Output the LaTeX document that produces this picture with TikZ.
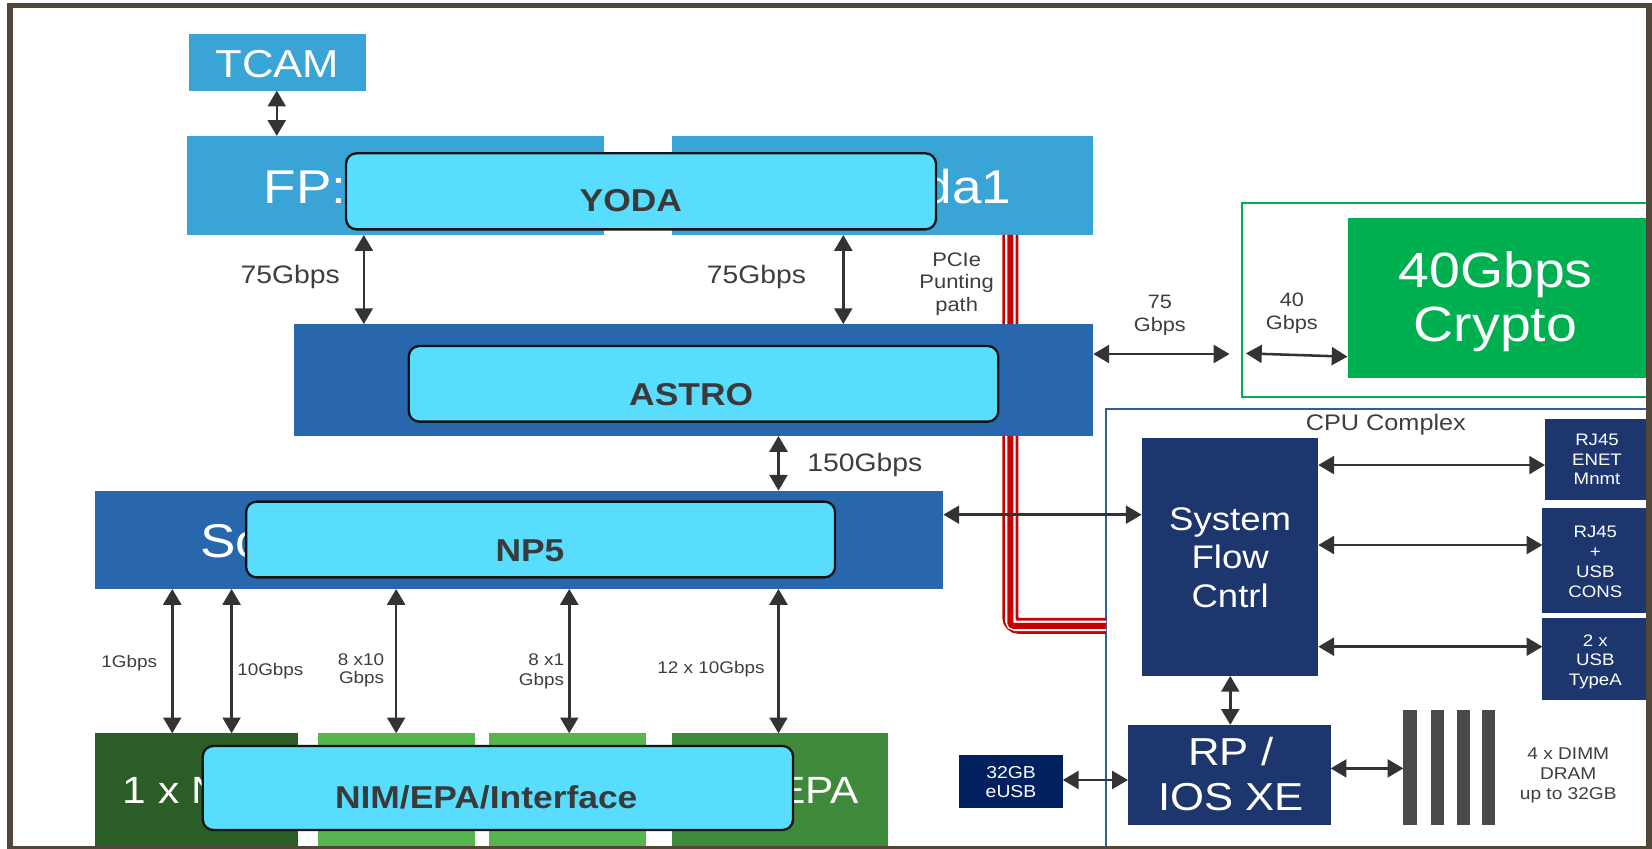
\documentclass[tikz,border=0pt]{standalone}
\usepackage{fontspec}
\setmainfont{Liberation Sans}[FakeStretch=1.12]
\usetikzlibrary{arrows.meta,fit}
\definecolor{lbc}{RGB}{58,164,214}
\definecolor{mbc}{RGB}{41,103,173}
\definecolor{cyc}{RGB}{88,221,254}
\definecolor{navyc}{RGB}{29,54,110}
\definecolor{eusbc}{RGB}{0,32,96}
\definecolor{cgreen}{RGB}{0,176,80}
\definecolor{dgreen}{RGB}{43,93,39}
\definecolor{lgreen}{RGB}{86,181,78}
\definecolor{mgreen}{RGB}{63,138,58}
\definecolor{arrc}{RGB}{51,51,51}
\definecolor{framec}{RGB}{82,70,58}
\definecolor{cpublue}{RGB}{46,96,158}
\definecolor{dimmc}{RGB}{74,74,74}
\definecolor{pred}{RGB}{200,0,0}
\definecolor{txtgray}{RGB}{62,62,62}
\definecolor{boldtxt}{RGB}{58,58,58}
\newcommand\myfs[2]{\fontsize{#1}{#2}\selectfont}
\newcommand\mkbox[6]{\node[#2, fit={(#3,#4)(#5,#6)}] (#1) {};}
\begin{document}
\begin{tikzpicture}[x=0.5pt,y=-0.5pt,
  bx/.style={inner sep=0pt, outer sep=0pt},
  lbbox/.style={bx, fill=lbc},
  mbbox/.style={bx, fill=mbc},
  navybox/.style={bx, fill=navyc},
  cybox/.style={bx, fill=cyc, draw=black!92, line width=1.1pt, rounded corners=5pt},
  arr/.style={draw=arrc, line width=1.2pt, {Triangle[length=7.5pt,width=8.5pt]}-{Triangle[length=7.5pt,width=8.5pt]}},
  lbl/.style={text=txtgray, inner sep=0pt, anchor=base},
  wt/.style={text=white, inner sep=0pt, anchor=base},
  bt/.style={text=boldtxt, inner sep=0pt, anchor=base, font=\myfs{15}{17}\bfseries}]
\useasboundingbox (0,0) rectangle (1568,805);
\fill[white] (0,0) rectangle (1568,805);

% --- FP / TCAM ---
\mkbox{tcam}{lbbox}{179.7}{32.3}{347.4}{86}
\node[wt, font=\myfs{18.5}{21}] (tcamt) at (263.4,73.4) {TCAM};
\mkbox{fpl}{lbbox}{177.1}{129}{573.3}{223}
\mkbox{fpr}{lbbox}{637.6}{129}{1037.7}{223}
\node[wt, font=\myfs{22.5}{26}, anchor=base west] (fpt) at (249.8,193) {FP:};
\node[wt, font=\myfs{22.5}{26}, anchor=base east] (dat) at (960.2,193) {da1};
\mkbox{yoda}{cybox}{328.4}{145.5}{888.4}{217.7}
\node[bt] (yodat) at (598.7,200.9) {YODA};
\draw[arr] (tcam.south -| 262.7,0) -- (fpl.north -| 262.7,0);

% --- outlines ---
\mkbox{cpu}{bx, draw=cpublue, line width=0.75pt}{1049.8}{388.3}{1563.5}{806}
\mkbox{grn}{bx, draw=cgreen, line width=0.75pt}{1178.7}{192.4}{1565}{377}

% --- PCIe punting path ---
\coordinate (pc) at (959,594);
\draw[pred, line width=7.6pt, rounded corners=4pt] (fpr.south -| pc) -- (pc) -- (cpu.west |- pc);
\draw[white, line width=5pt, rounded corners=2.5pt] (fpr.south -| pc) -- (pc) -- (cpu.west |- pc);
\draw[pred, line width=2.85pt, rounded corners=1.5pt] (fpr.south -| pc) -- (pc) -- (cpu.west |- pc);
\node[lbl, font=\myfs{9.3}{10.8}, align=center] (pcie) at (908,295.8) {PCIe\\Punting\\path};

% --- ASTRO ---
\mkbox{astro}{mbbox}{279}{307.6}{1037.7}{413.8}
\mkbox{astroi}{cybox}{388}{328.4}{947.5}{400.2}
\node[bt] (astrot) at (656,384.4) {ASTRO};
\draw[arr] (fpl.south -| 345.3,0) -- (astro.north -| 345.3,0);
\draw[arr] (fpr.south -| 800.4,0) -- (astro.north -| 800.4,0);
\node[lbl, font=\myfs{12}{14}] (l75a) at (275.5,269) {75Gbps};
\node[lbl, font=\myfs{12}{14}] (l75b) at (718,268.7) {75Gbps};

% --- Crypto ---
\mkbox{crypto}{bx, fill=cgreen}{1279}{206.6}{1565}{359}
\node[wt, font=\myfs{23.5}{25.8}, align=center] (cryt) at (1419.5,324.3) {40Gbps\\Crypto};
\coordinate (e75) at (1167,336);
\draw[arr] (astro.east |- e75) -- (e75);
\node[lbl, font=\myfs{9.2}{11}, align=center] (l75c) at (1100.9,314.8) {75\\Gbps};
\coordinate (s40) at (1182.6,335.4);
\draw[arr] (s40) -- (crypto.west |- 0,338.5);
\node[lbl, font=\myfs{9.2}{11}, align=center] (l40) at (1226.2,313.2) {40\\Gbps};

% --- CPU complex ---
\node[lbl, font=\myfs{10.7}{12}] (cput) at (1315.4,408.8) {CPU Complex};
\mkbox{sfc}{navybox}{1083.6}{415.5}{1251.2}{641.5}
\node[wt, font=\myfs{15.5}{18.25}, align=center] (sfct) at (1167.6,576.5) {System\\Flow\\Cntrl};
\mkbox{rj1}{navybox}{1466.5}{397.7}{1565}{474.6}
\node[wt, font=\myfs{7.9}{9.35}, align=center] (rj1t) at (1515.8,460.3) {RJ45\\ENET\\Mnmt};
\mkbox{rj2}{navybox}{1464}{481.9}{1565}{582}
\node[wt, font=\myfs{7.9}{9.45}, align=center] (rj2t) at (1514.2,567) {RJ45\\+\\USB\\CONS};
\mkbox{rj3}{navybox}{1464}{586.2}{1565}{664.4}
\node[wt, font=\myfs{7.9}{9.25}, align=center] (rj3t) at (1514.2,650.2) {2 x\\USB\\TypeA};
\draw[arr] (sfc.east |- 0,441.4) -- (rj1.west |- 0,441.4);
\draw[arr] (sfc.east |- 0,517.3) -- (rj2.west |- 0,517.3);
\draw[arr] (sfc.east |- 0,613.8) -- (rj3.west |- 0,613.8);
\mkbox{rp}{navybox}{1070.6}{688}{1263}{783}
\node[wt, font=\myfs{18.5}{21.35}, align=center] (rpt) at (1168.2,769.4) {RP /\\IOS XE};
\draw[arr] (sfc.south -| 1167.7,0) -- (rp.north -| 1167.7,0);
\mkbox{dimma}{bx, fill=dimmc}{1332}{674}{1345}{783}
\mkbox{dimmb}{bx, fill=dimmc}{1358}{674}{1370.5}{783}
\mkbox{dimmc}{bx, fill=dimmc}{1383}{674}{1395.5}{783}
\mkbox{dimmd}{bx, fill=dimmc}{1406.7}{674}{1419}{783}
\draw[arr] (rp.east |- 0,729.3) -- (dimma.west |- 0,729.3);
\node[lbl, font=\myfs{8.1}{9.3}, align=center] (dimmt) at (1488.5,758.4) {4 x DIMM\\DRAM\\up to 32GB};
\mkbox{eusb}{bx, fill=eusbc}{910}{716.3}{1008.7}{766.6}
\node[wt, font=\myfs{8.2}{9}, align=center] (eusbt) at (959.6,756.8) {32GB\\eUSB};
\draw[arr] (eusb.east |- 0,740.3) -- (rp.west |- 0,740.3);

% --- NP5 ---
\mkbox{sch}{mbbox}{89.7}{465.7}{895.4}{559}
\node[wt, font=\myfs{22.5}{26}, anchor=base west] (scht) at (189.6,529) {Sc};
\mkbox{np5}{cybox}{233.6}{476.1}{792.6}{548}
\node[bt] (np5t) at (503,533) {NP5};
\draw[arr] (astro.south -| 738.9,0) -- (sch.north -| 738.9,0);
\node[lbl, font=\myfs{12}{14}, anchor=base west] (l150) at (766,447.7) {150Gbps};
\draw[arr] (sch.east |- 0,488.5) -- (sfc.west |- 0,488.5);

% --- bottom row ---
\mkbox{ba}{bx, fill=dgreen}{89.7}{696}{282.6}{806}
\mkbox{bb}{bx, fill=lgreen}{301.5}{696}{450.4}{806}
\mkbox{bc}{bx, fill=lgreen}{464.2}{696}{612.9}{806}
\mkbox{bd}{bx, fill=mgreen}{637.5}{696}{842.4}{806}
\node[wt, font=\myfs{18}{21}, anchor=base west] (bat) at (116.3,763) {1 x N};
\node[wt, font=\myfs{18}{21}, anchor=base east] (bdt) at (816,763) {EPA};
\mkbox{nim}{cybox}{192.5}{708}{752.7}{787.8}
\node[bt] (nimt) at (461.5,767.2) {NIM/EPA/Interface};
\draw[arr] (sch.south -| 163.5,0) -- (ba.north -| 163.5,0);
\draw[arr] (sch.south -| 219.8,0) -- (ba.north -| 219.8,0);
\draw[arr] (sch.south -| 376,0) -- (bb.north -| 376,0);
\draw[arr] (sch.south -| 540.3,0) -- (bc.north -| 540.3,0);
\draw[arr] (sch.south -| 738.9,0) -- (bd.north -| 738.9,0);
\node[lbl, font=\myfs{8}{9}] (l1g) at (122.6,633.7) {1Gbps};
\node[lbl, font=\myfs{8}{9}] (l10g) at (256.6,640.7) {10Gbps};
\node[lbl, font=\myfs{8}{8.7}, align=right, anchor=base east] (l810) at (365,648.6) {8 x10\\Gbps};
\node[lbl, font=\myfs{8}{9.2}, align=right, anchor=base east] (l81) at (535.8,650.2) {8 x1\\Gbps};
\node[lbl, font=\myfs{8}{9}] (l1210) at (674.8,639) {12 x 10Gbps};

% --- frame ---
\draw[framec, line width=2.75pt] (9.5,5.2) rectangle (1565.5,805.5);
\end{tikzpicture}
\end{document}
